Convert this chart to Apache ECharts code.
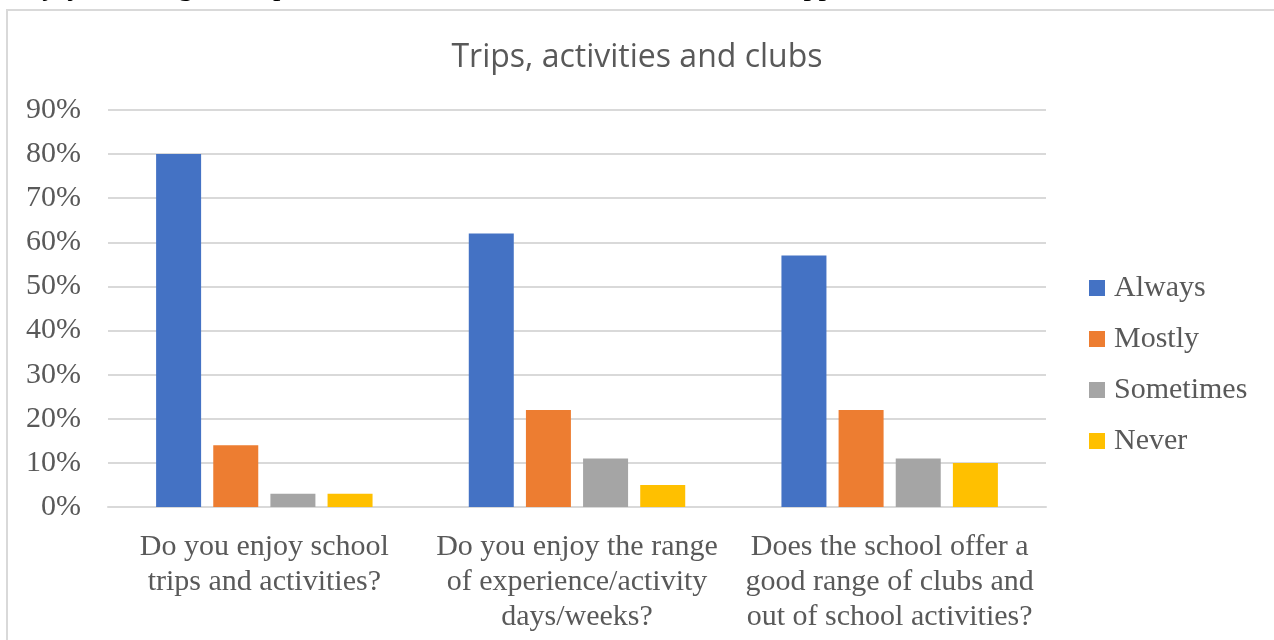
<!DOCTYPE html>
<html>
<head>
<meta charset="utf-8">
<script src="https://cdn.jsdelivr.net/npm/echarts@6/dist/echarts.min.js"></script>
<style>
  html, body { margin: 0; padding: 0; background: #fff; }
  #chart { width: 1274px; height: 640px; }
</style>
</head>
<body>
<div id="chart"></div>
<script>
// survey questions (x categories)
var questions = [
  'Do you enjoy school\ntrips and activities?',
  'Do you enjoy the range\nof experience/activity\ndays/weeks?',
  'Does the school offer a\ngood range of clubs and\nout of school activities?'
]
// answers, in percent
var always = [80, 62, 57]
var mostly = [14, 22, 22]
var sometimes = [3, 11, 11]
var never = [3, 5, 10]

var serif = '"Liberation Serif", "DejaVu Serif", serif'
var grey = '#595959'

function bar (name, data, color) {
  return {
    name: name,
    type: 'bar',
    data: data,
    barWidth: 45,
    barGap: '27%',
    itemStyle: { color: color }
  }
}

var option = {
  backgroundColor: '#fff',
  animation: false,
  title: {
    text: 'Trips, activities and clubs',
    left: 'center',
    top: 37,
    textStyle: {
      color: grey,
      fontFamily: '"Open Sans", "Noto Sans", sans-serif',
      fontWeight: 'normal',
      fontSize: 32
    }
  },
  graphic: [
    {
      type: 'rect',
      shape: { x: 7, y: 10, width: 1300, height: 700 },
      style: { fill: 'none', stroke: '#d9d9d9', lineWidth: 2 },
      silent: true
    },
    {
      type: 'text',
      right: 353,
      top: -28,
      style: {
        text: 'enjoyable range of trips, activities and clubs, which the children appreciate.',
        fill: '#000',
        font: '30px ' + serif
      },
      silent: true
    }
  ],
  legend: {
    orient: 'vertical',
    left: 1089,
    top: 273,
    padding: 0,
    icon: 'rect',
    itemWidth: 16,
    itemHeight: 16,
    itemGap: 21,
    textStyle: { color: grey, fontFamily: serif, fontSize: 30, lineHeight: 30, padding: [0, 0, 0, 4] }
  },
  grid: { left: 108, right: 228, top: 110, bottom: 133 },
  xAxis: {
    type: 'category',
    data: questions,
    axisLine: { lineStyle: { color: '#d9d9d9', width: 2 } },
    axisTick: { show: false },
    axisLabel: {
      color: grey,
      fontFamily: serif,
      fontSize: 30,
      lineHeight: 35,
      margin: 23,
      interval: 0
    }
  },
  yAxis: {
    type: 'value',
    min: 0,
    max: 90,
    interval: 10,
    axisLine: { show: false },
    axisTick: { show: false },
    axisLabel: {
      color: grey,
      fontFamily: serif,
      fontSize: 30,
      margin: 27,
      formatter: '{value}%'
    },
    splitLine: { lineStyle: { color: '#d9d9d9', width: 2 } }
  },
  series: [
    bar('Always', always, '#4472C4'),
    bar('Mostly', mostly, '#ED7D31'),
    bar('Sometimes', sometimes, '#A5A5A5'),
    bar('Never', never, '#FFC000')
  ]
}

var myChart = echarts.init(document.getElementById('chart'))
myChart.setOption(option)
</script>
</body>
</html>
